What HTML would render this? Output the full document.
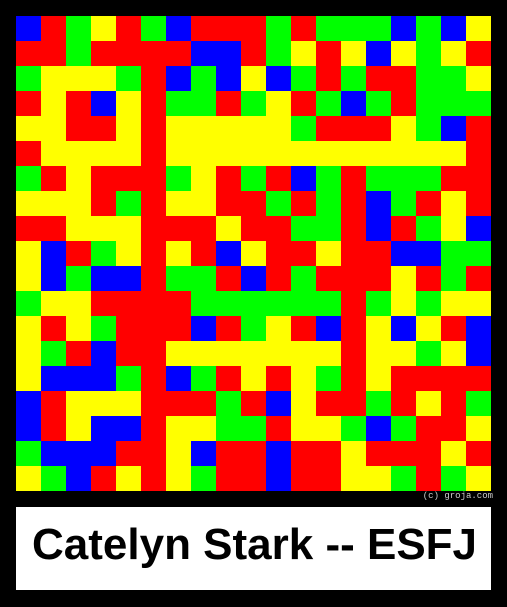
<!DOCTYPE html>
<html><head><meta charset="utf-8"><style>
body{margin:0;background:#000;width:507px;height:607px;overflow:hidden;position:relative;font-family:"Liberation Sans",sans-serif}
#grid{position:absolute;left:16px;top:16px;width:475px;height:475px}
#credit{position:absolute;right:14px;top:491px;font:9px "Liberation Mono",monospace;color:#ccc}
#label{position:absolute;left:16px;top:507px;width:475px;height:83px;background:#fff;font-weight:bold;font-size:44px;line-height:76px;text-align:left;color:#000}
#label span{position:absolute;left:16px;top:0;white-space:nowrap}
</style></head><body>
<svg id="grid" width="475" height="475"></svg>
<div id="credit">(c) groja.com</div>
<div id="label"><span>Catelyn Stark -- ESFJ</span></div>
<script>
const rows = [
"BRGYRGBRRRGRGGGBGBY",
"RRGRRRRBBRGYRYBYGYR",
"GYYYGRBGBYBGRGRRGGY",
"RYRBYRGGRGYRGBGRGGG",
"YYRRYRYYYYYGRRRYGBR",
"RYYYYRYYYYYYYYYYYYR",
"GRYRRRGYRGRBGRGGGRR",
"YYYRGRYYRRGRGRBGRYR",
"RRYYYRRRYRRGGRBRGYB",
"YBRGYRYRBYRRYRRBBGG",
"YBGBBRGGRBRGRRRYRGR",
"GYYRRRRGGGGGGRGYGYY",
"YRYGRRRBRGYRBRYBYRB",
"YGRBRRYYYYYYYRYYGYB",
"YBBBGRBGRYRYGRYRRRR",
"BRYYYRRRGRBYRRGRYRG",
"BRYBBRYYGGRYYGBGRRY",
"GBBBRRYBRRBRRYRRRYR",
"YGBRYRYGRRBRRYYGRGY"
];
const colors = {R:"#ff0000",G:"#00ff00",B:"#0000ff",Y:"#ffff00"};
const svg = document.getElementById('grid');
const n = rows.length, cs = 475 / n;
rows.forEach((row, r) => {
  [...row].forEach((c, k) => {
    const el = document.createElementNS('http://www.w3.org/2000/svg', 'rect');
    el.setAttribute('x', k * cs);
    el.setAttribute('y', r * cs);
    el.setAttribute('width', cs + 0.5);
    el.setAttribute('height', cs + 0.5);
    el.setAttribute('fill', colors[c]);
    
    
    svg.appendChild(el);
  });
});
</script>
</body></html>
